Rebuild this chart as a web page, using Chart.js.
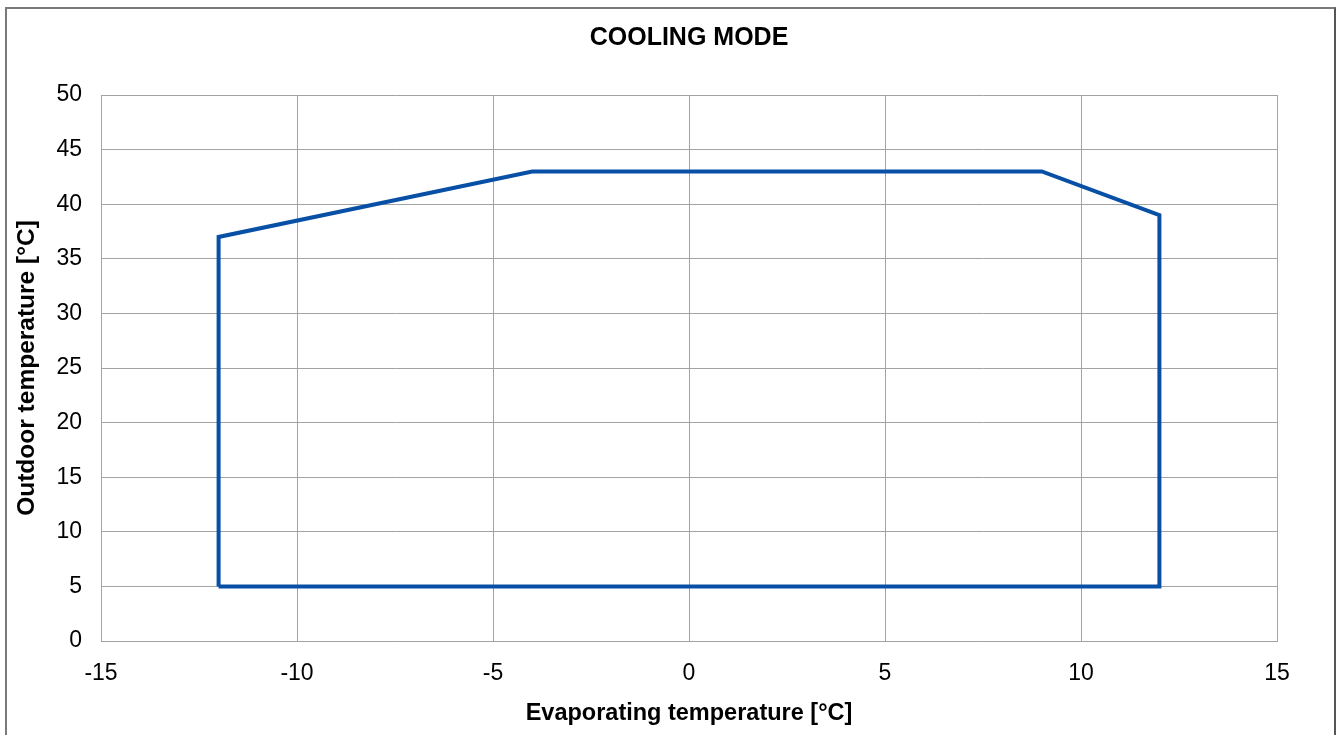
<!DOCTYPE html>
<html>
<head>
<meta charset="utf-8">
<script src="https://cdn.jsdelivr.net/npm/chart.js@4/dist/chart.umd.min.js"></script>
<style>
  html, body { margin: 0; padding: 0; background: #fff; overflow: hidden; }
  #wrap { position: relative; width: 1339px; height: 735px; }
  #frame { position: absolute; left: 5px; top: 7px; width: 1327px; height: 740px;
           border-left: 2px solid #7a7a7a; border-top: 2px solid #7a7a7a; border-right: 2px solid #555;
           pointer-events: none; }
  canvas { position: absolute; left: 0; top: 0; }
</style>
</head>
<body>
<div id="wrap">
  <canvas id="c" width="1339" height="735"></canvas>
  <div id="frame"></div>
</div>
<script>
const chartTitle = 'COOLING MODE';
const xAxisTitle = 'Evaporating temperature [°C]';
const yAxisTitle = 'Outdoor temperature [°C]';
const evapTemps = [-12, -12, -4, 9, 12, 12, -12];
const outdoorTemps = [5, 37, 43, 43, 39, 5, 5];
const xTicks = [-15, -10, -5, 0, 5, 10, 15];
const yTicks = [0, 5, 10, 15, 20, 25, 30, 35, 40, 45, 50];

const points = evapTemps.map((x, i) => ({ x: x, y: outdoorTemps[i] }));
const FONT = '"Liberation Sans", Arial, sans-serif';
const GRID = '#a3a3a3';

new Chart(document.getElementById('c'), {
  type: 'scatter',
  data: {
    datasets: [{
      data: points,
      showLine: true,
      borderColor: '#0850a5',
      backgroundColor: '#0850a5',
      borderWidth: 4,
      pointRadius: 0,
      tension: 0,
      fill: false
    }]
  },
  options: {
    responsive: false,
    animation: false,
    devicePixelRatio: 1,
    layout: { padding: { left: 0, right: 62, top: 0, bottom: 0 } },
    plugins: {
      legend: { display: false },
      tooltip: { enabled: false },
      title: {
        display: true,
        fullSize: false,
        text: chartTitle,
        color: '#000',
        font: { family: FONT, size: 25, weight: 'bold' },
        padding: { top: 23, bottom: 42 }
      }
    },
    scales: {
      x: {
        type: 'linear',
        min: xTicks[0],
        max: xTicks[xTicks.length - 1],
        afterBuildTicks: (s) => { s.ticks = xTicks.map(v => ({ value: v })); },
        afterFit: (s) => { s.height = 94; },
        grid: { color: GRID, lineWidth: 1, drawTicks: false },
        border: { color: GRID, width: 1 },
        ticks: { color: '#000', font: { family: FONT, size: 23 }, padding: 19, maxRotation: 0 },
        title: {
          display: true, text: xAxisTitle, color: '#000',
          font: { family: FONT, size: 23.5, weight: 'bold' },
          padding: { top: 0, bottom: 7.5 }
        }
      },
      y: {
        type: 'linear',
        min: yTicks[0],
        max: yTicks[yTicks.length - 1],
        afterBuildTicks: (s) => { s.ticks = yTicks.map(v => ({ value: v })); },
        afterFit: (s) => { s.width = 101; },
        grid: { color: GRID, lineWidth: 1, drawTicks: false },
        border: { color: GRID, width: 1 },
        ticks: { color: '#000', font: { family: FONT, size: 23 }, padding: 19 },
        title: {
          display: true, text: yAxisTitle, color: '#000',
          font: { family: FONT, size: 24.5, weight: 'bold' },
          padding: { top: 13, bottom: 0 }
        }
      }
    }
  }
});
</script>
</body>
</html>
